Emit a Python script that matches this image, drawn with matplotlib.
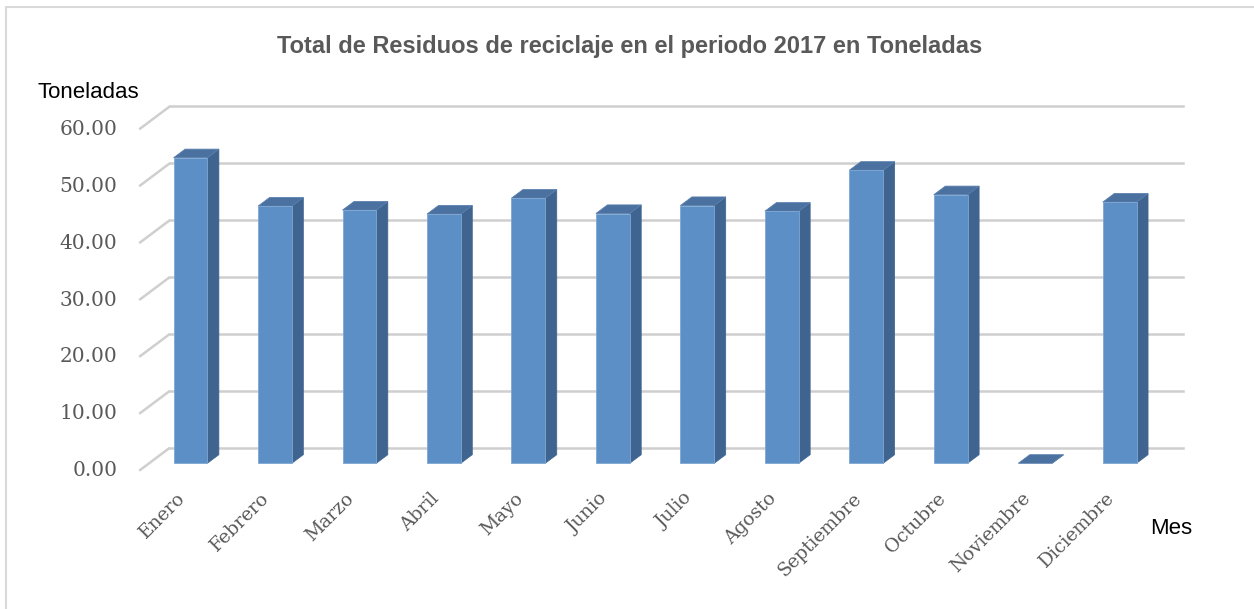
# 3D-style column chart (Excel look) built from flat matplotlib patches
import matplotlib.pyplot as plt
from matplotlib.patches import Polygon, Rectangle

# Data
months = ["Enero", "Febrero", "Marzo", "Abril", "Mayo", "Junio", "Julio",
          "Agosto", "Septiembre", "Octubre", "Noviembre", "Diciembre"]
toneladas = [53.7, 45.2, 44.5, 43.8, 46.6, 43.9, 45.3, 44.3, 51.5, 47.2, 0.0, 45.9]
y_ticks = [0, 10, 20, 30, 40, 50, 60]

# pixel scale of the picture (1254x609) -> data units
W, H = 1254, 609
px_x = 84.47   # px per category
px_y = 5.69    # px per tonne
x0_px, y0_px = 190.5, 463.3   # pixel position of category 0, value 0 (bar plane)

def dx(p):
    return p / px_x

def dy(p):
    return p / px_y

bar_w = 0.4
depth = (dx(11.5), dy(8.6))        # bar depth offset
floor_front = (dx(-9.9), dy(-7.4))  # front edge of the floor relative to bar plane
back_wall = (dx(20.8), dy(15.6))    # back wall relative to bar plane
x_left, x_right = -0.49, 11.5

c_front = "#5b8fc5"
c_side = "#3f6490"
c_top = "#4b71a0"
c_grid = "#cfcfcf"
c_text = "#595959"

fig = plt.figure(figsize=(W / 100, H / 100), dpi=100)
ax = fig.add_axes([0, 0, 1, 1])
ax.set_xlim(-x0_px / px_x, (W - x0_px) / px_x)
ax.set_ylim(-(H - y0_px) / px_y, y0_px / px_y)
ax.axis("off")

# outer chart border
fig.patches.append(Rectangle((6 / W, -0.1), 1.2, 1 - 6.5 / H + 0.1, transform=fig.transFigure,
                             fill=False, edgecolor="#d9d9d9", lw=1.5))

# gridlines: left-wall diagonals + back-wall horizontals
for v in y_ticks:
    xa, ya = x_left + floor_front[0], v + floor_front[1]
    xb, yb = x_left + back_wall[0], v + back_wall[1]
    ax.plot([xa, xb], [ya, yb], color=c_grid, lw=1.8, solid_capstyle="butt", zorder=1)
    ax.plot([xb, x_right + back_wall[0]], [yb, yb], color=c_grid, lw=1.8, zorder=1)
    ax.text(xa - dx(22), ya, f"{v:.2f}", ha="right", va="center", fontsize=14.5,
            family="DejaVu Serif", color=c_text)

# bars
for i, v in enumerate(toneladas):
    l, r = i - bar_w / 2, i + bar_w / 2
    ddx, ddy = depth
    side = Polygon([(r, 0), (r + ddx, ddy), (r + ddx, v + ddy), (r, v)],
                   closed=True, facecolor=c_side, edgecolor=c_side, lw=0.5, zorder=3)
    top = Polygon([(l, v), (l + ddx, v + ddy), (r + ddx, v + ddy), (r, v)],
                  closed=True, facecolor=c_top, edgecolor="#5a7fae", lw=0.6, zorder=4)
    ax.add_patch(side)
    ax.add_patch(top)
    if v > 0:
        ax.bar(i, v, width=bar_w, color=c_front, edgecolor="#7ea7d3", linewidth=0.6, zorder=5)

# month labels
for i, m in enumerate(months):
    ax.text(i - 0.02, dy(-26), m, rotation=45, ha="right", va="top", fontsize=13.5,
            family="DejaVu Serif", color=c_text)

fig.text(630 / W, 1 - 47 / H, "Total de Residuos de reciclaje en el periodo 2017 en Toneladas",
         ha="center", va="center", fontsize=17, fontweight="bold",
         family="Liberation Sans", color=c_text)
fig.text(37 / W, 1 - 93 / H, "Toneladas", ha="left", va="center", fontsize=16,
         family="Liberation Sans", color="black")
fig.text(1150 / W, 1 - 528 / H, "Mes", ha="left", va="center", fontsize=16,
         family="Liberation Sans", color="black")

fig.savefig("out.png", dpi=100)
